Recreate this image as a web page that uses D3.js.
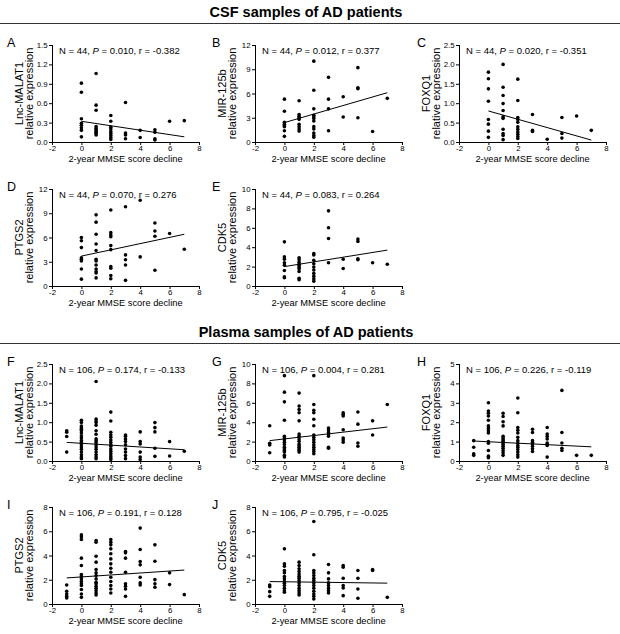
<!DOCTYPE html>
<html><head><meta charset="utf-8">
<script src="https://cdn.jsdelivr.net/npm/d3@7"></script>
<style>body{margin:0;background:#fff}svg{display:block}</style>
</head><body>
<svg id="c" width="620" height="634"></svg>
<script>
// ---------- data ----------
const sectionTitles = ["CSF samples of AD patients", "Plasma samples of AD patients"];
const panelLetters = ["A","B","C","D","E","F","G","H","I","J"];
const genes = ["Lnc-MALAT1","MIR-125b","FOXQ1","PTGS2","CDK5","Lnc-MALAT1","MIR-125b","FOXQ1","PTGS2","CDK5"];
const statN = [44,44,44,44,44,106,106,106,106,106];
const statP = ["0.010","0.012","0.020","0.070","0.083","0.174","0.004","0.226","0.191","0.795"];
const statR = ["-0.382","0.377","-0.351","0.276","0.264","-0.133","0.281","-0.119","0.128","-0.025"];
const yMax  = [1.5,12,2.5,12,10,2.5,10,5,8,8];
const yStep = [0.3,3,0.5,3,2,0.5,2,1,2,2];
const xTicks = [-2,0,2,4,6,8];
// regression line: [x0, y0, x1, y1]
const fitLines = [
  [0,0.32,7,0.08],[0,2.4,7,6.1],[0,0.80,7,0.05],[0,3.7,7,6.4],[0,2.0,7,3.7],
  [-1,0.48,7,0.29],[-1,2.1,7,3.5],[-1,1.03,7,0.73],[-1,2.15,7,2.8],[-1,1.85,7,1.72]
];
// points grouped by x value: [x, [y...]]
const ptsA = [[0,[0.91,0.77,0.36,0.29,0.26,0.22,0.18,0.08]],[1,[1.06,0.57,0.49,0.24,0.21,0.19,0.17,0.15,0.13,0.11]],[2,[0.41,0.32,0.23,0.20,0.16,0.13,0.10,0.07,0.04]],[3,[0.61,0.14,0.11,0.05]],[4,[0.18,0.07]],[5,[0.19,0.15,0.05,0.03]],[6,[0.32]],[7,[0.33]]];
const ptsB = [[0,[5.3,3.8,2.45,2.2,2.0,1.9,1.4,0.7]],[1,[5.1,3.4,3.2,3.0,2.8,2.2,1.9,1.6,1.35]],[2,[10.0,6.4,4.1,3.3,3.1,2.9,2.6,1.9,1.6,1.1,0.8,0.6]],[3,[8.0,5.3,4.1,1.4]],[4,[5.6,3.1]],[5,[9.2,6.7,6.6,3.0]],[6,[1.3]],[7,[5.4]]];
const ptsC = [[0,[1.8,1.63,1.37,1.05,0.58,0.46,0.28,0.12]],[1,[2.0,1.41,1.2,0.99,0.81,0.65,0.61,0.33,0.22,0.17,0.06]],[2,[1.62,1.07,0.63,0.58,0.51,0.39,0.33,0.26,0.20,0.14,0.09]],[3,[0.71,0.30,0.27]],[4,[0.07]],[5,[0.63,0.22,0.10]],[6,[0.67]],[7,[0.30]]];
const ptsD = [[0,[6.0,5.6,4.75,3.5,3.3,3.1,2.1,0.85]],[1,[8.8,7.9,6.4,5.2,4.4,3.3,3.1,2.6,2.1,1.8,1.6,1.0]],[2,[9.4,6.6,6.3,6.1,5.0,4.5,2.4,2.2,1.3,0.9]],[3,[9.8,3.85,3.25,2.6,0.7]],[4,[10.6,3.6]],[5,[7.8,6.8,6.15,1.95]],[6,[6.5]],[7,[4.55]]];
const ptsE = [[0,[4.55,3.0,2.75,2.4,2.15,1.6,0.95,0.85]],[1,[2.9,2.7,2.45,2.25,2.1,1.9,1.75,1.5,0.8,0.65]],[2,[3.35,3.2,2.65,2.3,1.95,1.65,1.3,1.0,0.75,0.5]],[3,[7.75,6.0,4.9,2.4]],[4,[2.75,1.8]],[5,[4.85,4.6,2.8,2.7]],[6,[2.4]],[7,[2.25]]];
const ptsF = [[-1,[0.78,0.74,0.63,0.23]],[0,[1.05,0.99,0.90,0.86,0.82,0.78,0.72,0.65,0.59,0.53,0.48,0.42,0.36,0.30,0.23,0.16,0.10,0.06]],[1,[2.05,1.08,1.03,0.99,0.92,0.78,0.69,0.57,0.53,0.48,0.42,0.36,0.30,0.23,0.16,0.10,0.06]],[2,[1.26,1.03,0.74,0.67,0.61,0.54,0.48,0.42,0.38,0.31,0.25,0.19,0.13,0.08,0.04]],[3,[0.67,0.64,0.57,0.50,0.42,0.31,0.23,0.14,0.06]],[4,[0.75,0.50,0.44,0.23,0.10,0.04]],[5,[0.99,0.86,0.75,0.33,0.12]],[6,[0.50,0.13]],[7,[0.25]]];
const ptsG = [[-1,[3.63,1.83,1.66,0.85]],[0,[8.8,7.1,6.1,4.2,2.55,2.37,2.17,1.93,1.7,1.42,1.25,1.08,0.92,0.58,0.41]],[1,[7.0,5.66,5.3,4.98,4.14,2.78,2.55,2.27,2.03,1.76,1.6,1.42,1.25,1.08,0.92]],[2,[8.8,5.83,5.22,4.98,4.3,3.63,2.68,2.44,2.2,1.93,1.66,1.42,1.19,0.98,0.75]],[3,[3.39,3.19,2.95,2.71,2.55,1.42,1.32]],[4,[4.98,4.81,4.64,3.22,2.37,2.17,1.93]],[5,[5.05,3.8,1.86,1.52]],[6,[4.14,2.68]],[7,[5.83]]];
const ptsH = [[-1,[1.05,0.71,0.37,0.29]],[0,[3.0,2.58,2.46,2.32,2.1,1.81,1.68,1.56,1.44,1.0,0.92,0.54,0.25,0.17]],[1,[2.46,2.29,2.02,1.81,1.27,1.19,1.1,1.02,0.93,0.85,0.76,0.66,0.54,0.42,0.29]],[2,[3.25,2.49,1.73,1.59,1.44,1.22,1.05,0.92,0.8,0.71,0.59,0.46,0.32,0.2]],[3,[1.64,1.47,1.05,0.97,0.88,0.76,0.63,0.49]],[4,[1.73,1.39,1.27,1.14,0.92,0.8,0.2]],[5,[3.64,1.47,0.93,0.66,0.54]],[6,[0.29]],[7,[0.29]]];
const ptsI = [[-1,[1.57,1.05,0.83,0.63,0.5]],[0,[5.7,5.52,5.32,3.78,3.17,2.43,2.26,2.07,1.85,1.66,1.52,1.19,0.83,0.55]],[1,[5.24,5.1,3.94,3.45,2.84,2.57,2.35,2.07,1.79,1.66,1.46,1.3,1.1,0.91,0.74]],[2,[5.32,5.1,4.88,4.55,4.14,3.72,3.31,2.95,2.62,2.21,1.85,1.52,1.24,0.91]],[3,[4.33,4.22,3.78,2.62,1.66,1.46,1.24,0.63]],[4,[6.26,4.5,3.5,3.23,2.21,1.74,1.57]],[5,[4.88,3.53,2.01,1.66,1.38]],[6,[2.57,1.6]],[7,[0.77]]];
const ptsJ = [[-1,[1.57,1.43,1.02,0.63]],[0,[4.55,3.31,3.12,2.76,2.57,2.26,2.07,1.85,1.71,1.52,1.3,1.1,0.97]],[1,[3.45,3.17,2.9,2.68,2.48,2.29,2.12,1.93,1.74,1.52,1.3,1.1,0.91,0.74]],[2,[6.81,4.06,2.76,2.57,2.35,2.12,1.93,1.74,1.52,1.3,1.05,0.83,0.63,0.41]],[3,[3.26,2.57,2.07,1.74,1.52,1.3,1.1,0.91]],[4,[3.17,3.03,2.12,1.52,1.32,0.69]],[5,[2.76,2.12,1.24,0.47]],[6,[2.84,2.76]],[7,[0.55]]];
const allPts = [ptsA,ptsB,ptsC,ptsD,ptsE,ptsF,ptsG,ptsH,ptsI,ptsJ];

// ---------- layout ----------
const FONT = "'Liberation Sans', Arial, sans-serif";
const colLeft = [52, 255, 459];
const rowTop = [45, 189, 364, 507];
const plotW = 147, plotH = 97;
const grid = [[0,0],[0,1],[0,2],[1,0],[1,1],[2,0],[2,1],[2,2],[3,0],[3,1]];
const letterX = [7, 212, 417];

const svg = d3.select("#c");

// section titles + rules
[[17, 23],[337, 343]].forEach(([ty, ly], i) => {
  svg.append("text").attr("x", 306).attr("y", ty).attr("text-anchor","middle")
    .attr("font-family", FONT).attr("font-weight","bold").attr("font-size", 14.5)
    .attr("fill","#000").text(sectionTitles[i]);
  svg.append("line").attr("x1",0).attr("x2",620).attr("y1",ly+0.5).attr("y2",ly+0.5)
    .attr("stroke","#333").attr("stroke-width",1);
});

panelLetters.forEach((L, i) => {
  const [r, c] = grid[i];
  const x0 = colLeft[c], y0 = rowTop[r];
  const g = svg.append("g").attr("transform", `translate(${x0},${y0})`);
  const x = d3.scaleLinear().domain([-2, 8]).range([0, plotW]);
  const y = d3.scaleLinear().domain([0, yMax[i]]).range([plotH, 0]);
  const yt = d3.range(0, yMax[i] + yStep[i]/2, yStep[i]);
  const fmt = yStep[i] < 1 ? d3.format(".1f") : d3.format("d");

  const yAxis = g.append("g").call(d3.axisLeft(y).tickValues(yt).tickFormat(fmt).tickSize(3).tickPadding(1.5));
  const xAxis = g.append("g").attr("transform", `translate(0,${plotH})`)
    .call(d3.axisBottom(x).tickValues(xTicks).tickFormat(d3.format("d")).tickSize(3).tickPadding(0.8));
  [yAxis, xAxis].forEach(a => {
    a.select(".domain").attr("stroke","#000").attr("stroke-width",1);
    a.selectAll(".tick line").attr("stroke","#000").attr("stroke-width",1);
    a.selectAll(".tick text").attr("font-family", FONT).attr("font-size", 7.8).attr("fill","#000");
  });
  yAxis.select(".domain").attr("d", `M0.5,${plotH}V0`);
  xAxis.select(".domain").attr("d", `M0,0.5H${plotW}`);
  xAxis.selectAll(".tick text").text(d => d < 0 ? "-" + Math.abs(d) : d);

  // panel letter
  svg.append("text").attr("x", letterX[c]).attr("y", y0 + 2)
    .attr("font-family", FONT).attr("font-size", 12.5).attr("fill","#000").text(L);

  // y title (two lines)
  const yc = plotH / 2;
  g.append("text").attr("transform", `translate(-29,${yc}) rotate(-90)`).attr("text-anchor","middle")
    .attr("font-family", FONT).attr("font-size", 11).attr("fill","#000").text(genes[i]);
  g.append("text").attr("transform", `translate(-19.5,${yc}) rotate(-90)`).attr("text-anchor","middle")
    .attr("font-family", FONT).attr("font-size", 11).attr("fill","#000").text("relative expression");

  // x title
  g.append("text").attr("x", plotW/2).attr("y", plotH + 20).attr("text-anchor","middle")
    .attr("font-family", FONT).attr("font-size", 9.3).attr("fill","#000").text("2-year MMSE score decline");

  // stat text
  const st = g.append("text").attr("x", 7).attr("y", 8.5)
    .attr("font-family", FONT).attr("font-size", 9.5).attr("fill","#000");
  st.append("tspan").text(`N = ${statN[i]}, `);
  st.append("tspan").attr("font-style","italic").text("P");
  st.append("tspan").text(` = ${statP[i]}, r = ${statR[i]}`);

  // regression line
  const f = fitLines[i];
  g.append("line").attr("x1", x(f[0])).attr("y1", y(f[1])).attr("x2", x(f[2])).attr("y2", y(f[3]))
    .attr("stroke","#000").attr("stroke-width",1);

  // points
  const flat = allPts[i].flatMap(([xv, ys]) => ys.map(v => [xv, v]));
  g.selectAll("circle.pt").data(flat).enter().append("circle").attr("class","pt")
    .attr("cx", d => x(d[0])).attr("cy", d => y(d[1])).attr("r", 1.8).attr("fill","#000");
});
</script>
</body></html>
